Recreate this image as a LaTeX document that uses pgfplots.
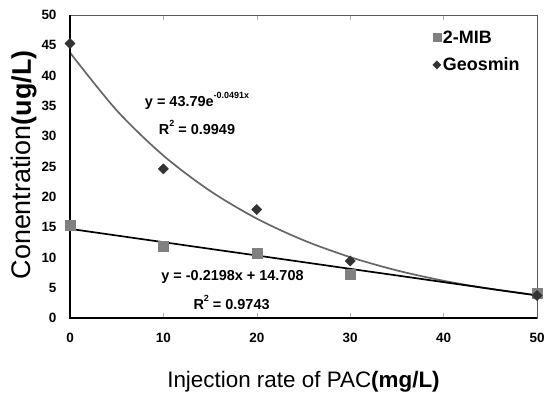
\documentclass[border=0pt]{standalone}
\usepackage{pgfplots}
\pgfplotsset{compat=1.18}
\usepackage{fontspec}
\setmainfont{Liberation Sans}
\definecolor{mibgray}{HTML}{808080}
\definecolor{geodark}{HTML}{333333}
\definecolor{expline}{HTML}{666666}
\begin{document}
\begin{tikzpicture}
\begin{axis}[
  name=ax,
  scale only axis, width=467bp, height=303bp,
  xmin=0, xmax=50, ymin=0, ymax=50,
  xtick={0,10,...,50}, ytick={0,5,...,50},
  axis line style={draw=gray!70!black, line width=0.8bp},
  tick align=inside, major tick length=5bp,
  xtick style={draw=gray!60, line width=0.6bp},
  ytick style={draw=none},
  ticklabel style={font=\fontsize{13.5}{14}\selectfont\bfseries},
  /pgf/number format/assume math mode=true,
  xticklabel style={yshift=-12bp},
  yticklabel style={xshift=-10bp},
  clip=false,
  legend style={at={(0.77,0.962)}, anchor=north west, draw=none, fill=none,
    font=\fontsize{18}{18}\selectfont\bfseries, row sep=9bp,
    nodes={inner xsep=2bp}},
  legend image post style={scale=0.8},
  legend cell align=left,
]
% trend lines
\addplot[expline, line width=1.7bp, smooth, forget plot] coordinates {
 (0,43.79) (5,34.26) (10,26.80) (15,20.97) (20,16.40) (25,12.83)
 (30,10.04) (35,7.85) (40,6.14) (45,4.81) (50,3.76)};
\addplot[black, line width=1.7bp, forget plot] coordinates {(0,14.708) (50,3.718)};
% data
\addplot[only marks, mark=square*, mark size=5bp, mibgray, mark options={draw=mibgray, fill=mibgray}] coordinates {
 (0,15.3) (10,11.8) (20,10.7) (30,7.3) (50,4.1)};
\addlegendentry{2-MIB}
\addplot[only marks, mark=square*, mark size=3.6bp, geodark, mark options={draw=geodark, fill=geodark, rotate=45}] coordinates {
 (0,45.3) (10,24.6) (20,17.9) (30,9.4) (50,3.7)};
\addlegendentry{Geosmin}
\draw[black, line width=1.3bp] (rel axis cs:0,1) -- (rel axis cs:0,0) -- (rel axis cs:1,0);
\node[font=\fontsize{14.5}{15}\selectfont\bfseries] at (axis cs:13.6,35.8)
  {y = 43.79e\raisebox{0.55em}{\fontsize{9}{9}\selectfont -0.0491x}};
\node[font=\fontsize{14.5}{15}\selectfont\bfseries] at (axis cs:13.6,31.5)
  {R\raisebox{0.55em}{\fontsize{9}{9}\selectfont 2} = 0.9949};
\node[font=\fontsize{14.5}{15}\selectfont\bfseries] at (axis cs:17.4,6.7)
  {y = -0.2198x + 14.708};
\node[font=\fontsize{14.5}{15}\selectfont\bfseries] at (axis cs:17.3,2.6)
  {R\raisebox{0.55em}{\fontsize{9}{9}\selectfont 2} = 0.9743};
\node[font=\fontsize{22.5}{24}\selectfont] at (rel axis cs:0.5,0) [yshift=-64bp]
  {Injection rate of PAC\textbf{(mg/L)}};
\node[font=\fontsize{27}{29}\selectfont, xshift=-46bp, rotate=90] at (rel axis cs:0,0.505)
  {Conentration\textbf{(ug/L)}};
\coordinate (O) at (rel axis cs:0,0);
\coordinate (T) at (rel axis cs:1,1);
\end{axis}
\pgfresetboundingbox
\path ([shift={(-70bp,-78bp)}]O) rectangle ([shift={(7bp,15bp)}]T);
\end{tikzpicture}
\end{document}
